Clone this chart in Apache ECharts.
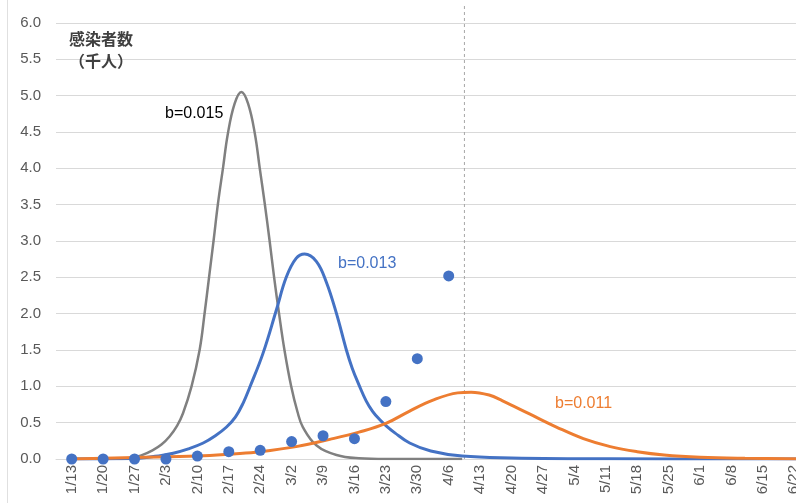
<!DOCTYPE html>
<html>
<head>
<meta charset="utf-8">
<script src="https://cdn.jsdelivr.net/npm/echarts@6/dist/echarts.min.js"></script>
<style>
html,body{margin:0;padding:0;overflow:hidden;background:#fff;width:796px;height:503px;}
#c{width:810px;height:503px;}
</style>
</head>
<body>
<div id="c"></div>
<script>
// Weekly category labels (x axis)
var weekLabels = ['1/13','1/20','1/27','2/3','2/10','2/17','2/24','3/2','3/9','3/16','3/23','3/30','4/6','4/13','4/20','4/27','5/4','5/11','5/18','5/25','6/1','6/8','6/15','6/22'];
// Observed infections (thousands), weekly
var observed = [0, 0, 0, 0, 0.04, 0.10, 0.12, 0.24, 0.32, 0.28, 0.79, 1.38, 2.52];

// Model curves: day offset from 1/13 and value (thousands)
var grayDays = [0, 10, 13, 15.5, 18, 20, 21.8, 23.5, 24.8, 26.7, 28.5, 29.6, 30.6, 31.6, 32.6, 33.7, 34.8, 36.3, 37.8, 39.3, 40.8, 41.9, 43, 44.1, 45.1, 46.2, 47.4, 48.9, 50.3, 51.5, 54.5, 59, 64, 70, 87];
var grayVals = [0, 0.005, 0.01, 0.05, 0.12, 0.2, 0.31, 0.46, 0.63, 1.0, 1.5, 2.0, 2.5, 3.0, 3.52, 4.0, 4.48, 4.89, 5.05, 4.89, 4.48, 4.0, 3.52, 3.0, 2.5, 2.0, 1.5, 1.0, 0.65, 0.44, 0.19, 0.055, 0.01, 0, 0];

var blueDays = [0, 10, 15, 20, 22.6, 26, 29.3, 32, 34.5, 36.5, 38.2, 39.7, 42.6, 45.6, 47.8, 50, 51.9, 54.5, 56.7, 59, 61.2, 62.5, 64, 65.6, 67, 68.5, 70, 72, 75.3, 80, 87, 98, 120, 164.5];
var blueVals = [0, 0.003, 0.01, 0.05, 0.08, 0.14, 0.22, 0.32, 0.44, 0.58, 0.77, 0.99, 1.45, 2.05, 2.5, 2.76, 2.82, 2.72, 2.44, 2.0, 1.5, 1.25, 1.02, 0.8, 0.66, 0.55, 0.46, 0.36, 0.22, 0.11, 0.04, 0.015, 0.003, 0];

var orangeDays = [0, 14, 28, 36, 42, 50, 57.5, 64, 70, 75.3, 80.5, 86, 89, 93, 96, 102, 108, 114, 120, 126, 132, 140, 150, 164.5];
var orangeVals = [0, 0.02, 0.04, 0.07, 0.10, 0.17, 0.27, 0.37, 0.49, 0.66, 0.81, 0.91, 0.92, 0.88, 0.80, 0.62, 0.44, 0.28, 0.17, 0.10, 0.055, 0.025, 0.01, 0];

// Vertical reference line (day offset, about 4/9), from 0 up past the top gridline
var refLineDays = [87.5, 87.5];
var refLineVals = [0, 6.25];

// Y tick settings
var yMin = 0, yMax = 6, yStep = 0.5;

function pairs(xs, ys){ return xs.map(function(x,i){ return [x, ys[i]]; }); }

var FONT = "'Liberation Sans', Arial, sans-serif";
var chart = echarts.init(document.getElementById('c'), null, {renderer:'canvas'});
chart.setOption({
  animation: false,
  backgroundColor: '#fff',
  title: {
    text: '感染者数\n（千人）',
    left: 64, top: 23,
    textStyle: {fontFamily: "'Noto Sans CJK JP', sans-serif", fontSize: 16, fontWeight: 'bold', color: '#404040', lineHeight: 22}
  },
  grid: [
    {left: 56, right: 0, top: 23, bottom: 44, containLabel: false},
    {left: 56, right: 0, top: 4.83, bottom: 44, containLabel: false}
  ],
  xAxis: [{
    type: 'category',
    gridIndex: 0,
    data: weekLabels,
    boundaryGap: true,
    axisLine: {show: true, lineStyle: {color: '#d9d9d9', width: 1}},
    axisTick: {show: false},
    splitLine: {show: false},
    axisLabel: {interval: 0, rotate: 90, margin: 6, color: '#595959', fontSize: 15, fontFamily: FONT}
  }, {
    type: 'value', gridIndex: 0,
    min: -3.5, max: 164.5,
    show: false,
    splitLine: {show: false}
  }, {
    type: 'value', gridIndex: 1,
    min: -3.5, max: 164.5,
    show: false,
    splitLine: {show: false}
  }],
  yAxis: [{
    type: 'value', gridIndex: 0,
    min: yMin, max: yMax, interval: yStep,
    axisLine: {show: false},
    axisTick: {show: false},
    splitLine: {lineStyle: {color: '#d9d9d9', width: 1}},
    axisLabel: {margin: 15, color: '#595959', fontSize: 15, fontFamily: FONT, formatter: function(v){ return v.toFixed(1); }}
  }, {
    type: 'value', gridIndex: 1,
    min: 0, max: 6.25,
    show: false,
    splitLine: {show: false}
  }],
  graphic: [
    {type: 'line', shape: {x1: 7.5, y1: 0, x2: 7.5, y2: 503}, style: {stroke: '#e0e0e0', lineWidth: 1}},
    {type: 'text', left: 165, top: 106, style: {text: 'b=0.015', fill: '#000', font: '16px ' + FONT}},
    {type: 'text', left: 338, top: 256, style: {text: 'b=0.013', fill: '#4472C4', font: '16px ' + FONT}},
    {type: 'text', left: 555, top: 396, style: {text: 'b=0.011', fill: '#ED7D31', font: '16px ' + FONT}}
  ],
  series: [{
    type: 'line', xAxisIndex: 2, yAxisIndex: 1, data: pairs(refLineDays, refLineVals),
    showSymbol: false, symbol: 'none', silent: true, z: 1,
    lineStyle: {color: '#a6a6a6', type: [3, 3], width: 1}
  }, {
    type: 'line', xAxisIndex: 1, yAxisIndex: 0, data: pairs(grayDays, grayVals),
    smooth: 0.4, showSymbol: false, symbol: 'none', z: 2,
    lineStyle: {color: '#808080', width: 2.5}
  }, {
    type: 'line', xAxisIndex: 1, yAxisIndex: 0, data: pairs(blueDays, blueVals),
    smooth: 0.4, showSymbol: false, symbol: 'none', z: 2,
    lineStyle: {color: '#4472C4', width: 3}
  }, {
    type: 'line', xAxisIndex: 1, yAxisIndex: 0, data: pairs(orangeDays, orangeVals),
    smooth: 0.4, showSymbol: false, symbol: 'none', z: 2,
    lineStyle: {color: '#ED7D31', width: 3}
  }, {
    type: 'scatter', xAxisIndex: 0, yAxisIndex: 0, data: observed,
    symbol: 'circle', symbolSize: 11, z: 3,
    itemStyle: {color: '#4472C4', opacity: 1}
  }]
});
</script>
</body>
</html>
